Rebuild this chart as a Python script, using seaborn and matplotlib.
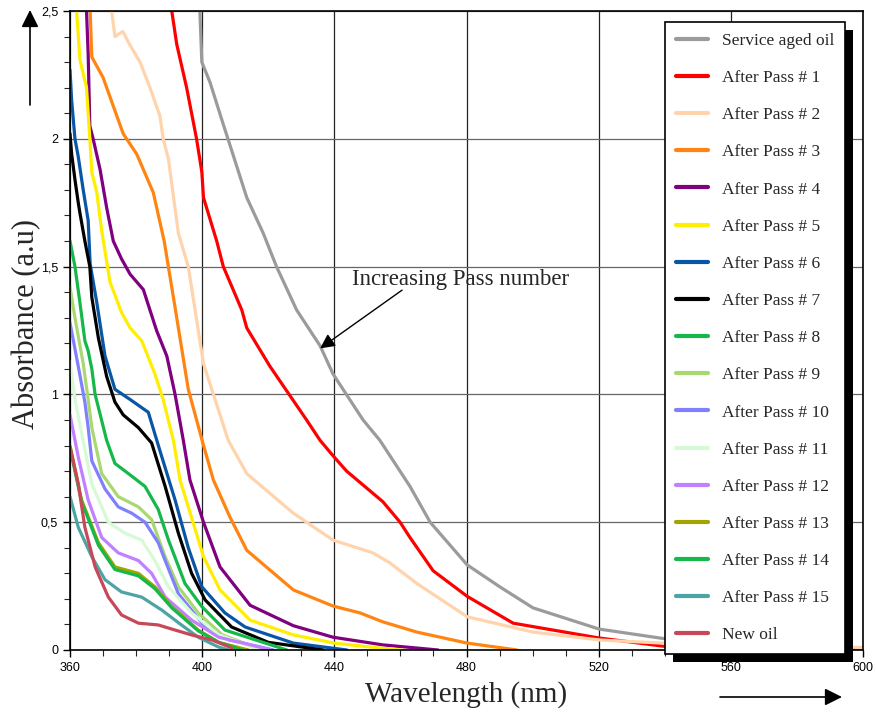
import numpy as np
import pandas as pd
import seaborn as sns
import matplotlib.pyplot as plt
from matplotlib.ticker import MultipleLocator, FuncFormatter
from matplotlib.patches import Rectangle
from matplotlib.transforms import IdentityTransform

# ---- data (wavelength nm, absorbance a.u.) ----
names = ["Service aged oil"] + ["After Pass # %d" % i for i in range(1, 16)] + ["New oil"]
colors = ["#9b9b9b", "#ff0000", "#ffd4ac", "#ff8412", "#800080", "#ffee00",
          "#0a56a6", "#000000", "#16b84a", "#a8d870", "#8080ff", "#d6fad6",
          "#c080ff", "#a4a400", "#16b84a", "#4ea4a4", "#c84858"]

wl_aged = [399.3, 399.9, 402.4, 406.3, 407.8, 413.5, 418.5, 422.5, 428.6, 435.7, 439.6,
           448.7, 453.8, 462.9, 469.0, 480.2, 490.1, 500.1, 520.1, 539.5, 560, 580, 600]
ab_aged = [2.50, 2.30, 2.22, 2.06, 2.00, 1.77, 1.63, 1.50, 1.33, 1.19, 1.08,
           0.90, 0.82, 0.64, 0.50, 0.333, 0.247, 0.165, 0.082, 0.045, 0.025, 0.014, 0.008]

wl_p1 = [390.8, 392.3, 395.3, 398.3, 399.9, 400.4, 404.4, 406.4, 412.0, 413.5, 420.5, 431.6,
         435.7, 439.6, 443.7, 454.7, 459.9, 462.9, 469.9, 480.2, 494.1, 520.1, 539.5, 570, 600]
ab_p1 = [2.50, 2.37, 2.20, 2.00, 1.87, 1.77, 1.60, 1.50, 1.33, 1.26, 1.11, 0.90,
         0.82, 0.76, 0.70, 0.58, 0.50, 0.44, 0.31, 0.21, 0.105, 0.047, 0.015, 0.008, 0.004]

wl_p2 = [372.6, 373.6, 376.0, 378.0, 381.2, 384.2, 387.2, 388.2, 389.8, 392.8, 395.8, 400.4,
         403.4, 407.9, 413.5, 427.6, 439.6, 451.7, 456.9, 465.0, 480.2, 500.1, 520.4, 539.5, 570, 600]
ab_p2 = [2.50, 2.40, 2.42, 2.37, 2.30, 2.20, 2.09, 2.00, 1.92, 1.63, 1.50, 1.12,
         1.00, 0.82, 0.69, 0.535, 0.43, 0.38, 0.34, 0.26, 0.13, 0.07, 0.039, 0.027, 0.016, 0.01]

wl_p3 = [366.1, 366.6, 370.0, 373.6, 376.1, 380.2, 385.2, 388.5, 391.8, 395.8, 400.2, 403.4,
         408.4, 413.5, 427.6, 439.6, 447.8, 454.7, 465.0, 480.2, 495.3]
ab_p3 = [2.50, 2.32, 2.24, 2.11, 2.02, 1.94, 1.79, 1.60, 1.34, 1.02, 0.81, 0.665,
         0.52, 0.39, 0.235, 0.172, 0.145, 0.11, 0.07, 0.027, 0.0]

wl_p4 = [365.0, 365.5, 366.0, 367.0, 369.1, 371.1, 373.1, 375.6, 378.2, 382.2, 386.2, 389.3,
         391.8, 394.3, 396.3, 400.4, 405.4, 414.5, 427.6, 439.6, 454.7, 471.4]
ab_p4 = [2.50, 2.33, 2.05, 2.00, 1.88, 1.73, 1.60, 1.53, 1.47, 1.41, 1.25, 1.15,
         1.00, 0.82, 0.665, 0.50, 0.325, 0.175, 0.095, 0.05, 0.02, 0.0]

wl_p5 = [362.0, 363.0, 365.0, 366.0, 366.6, 368.1, 369.6, 370.1, 372.1, 375.6, 378.2, 381.7,
         385.7, 388.2, 391.3, 393.3, 395.8, 400.4, 405.4, 414.5, 427.6, 440.0, 452.0, 460.0]
ab_p5 = [2.50, 2.31, 2.20, 2.00, 1.87, 1.79, 1.64, 1.60, 1.44, 1.32, 1.26, 1.21,
         1.08, 0.98, 0.82, 0.665, 0.56, 0.365, 0.235, 0.117, 0.059, 0.027, 0.01, 0.0]

wl_p6 = [360.0, 360.5, 361.5, 362.5, 364.0, 365.5, 366.1, 368.1, 370.6, 373.6, 378.2, 383.7,
         387.8, 391.8, 395.8, 399.9, 406.9, 413.0, 427.6, 443.8]
ab_p6 = [2.27, 2.15, 2.00, 1.93, 1.80, 1.68, 1.51, 1.36, 1.15, 1.02, 0.98, 0.93,
         0.755, 0.587, 0.40, 0.247, 0.145, 0.09, 0.027, 0.0]

wl_p7 = [360.0, 360.5, 361.5, 362.5, 363.0, 364.5, 366.0, 366.6, 368.6, 371.1, 373.6, 376.1,
         380.7, 384.7, 388.8, 392.8, 396.8, 400.9, 408.9, 420.0, 436.6]
ab_p7 = [2.02, 1.94, 1.84, 1.75, 1.71, 1.60, 1.50, 1.38, 1.22, 1.07, 0.97, 0.92,
         0.87, 0.81, 0.64, 0.457, 0.30, 0.196, 0.09, 0.03, 0.0]

wl_p8 = [360.0, 361.5, 363.0, 364.5, 365.5, 366.6, 367.6, 371.1, 373.6, 378.7, 382.7, 386.7,
         389.8, 394.8, 399.9, 406.9, 425.6]
ab_p8 = [1.60, 1.50, 1.36, 1.21, 1.17, 1.10, 1.00, 0.82, 0.73, 0.68, 0.64, 0.55,
         0.43, 0.26, 0.17, 0.078, 0.0]

wl_p9 = [360.0, 361.5, 364.0, 365.5, 366.6, 369.6, 374.6, 380.7, 384.7, 388.8, 392.8, 398.8, 406.0, 418.0]
ab_p9 = [1.42, 1.30, 1.12, 0.98, 0.87, 0.69, 0.60, 0.56, 0.51, 0.365, 0.247, 0.145, 0.06, 0.0]

wl_p10 = [360.0, 362.5, 364.5, 365.5, 366.6, 370.6, 374.6, 378.7, 382.7, 386.7, 388.8, 392.8,
          400.9, 408.0, 421.5]
ab_p10 = [1.28, 1.11, 0.97, 0.87, 0.74, 0.63, 0.56, 0.535, 0.50, 0.42, 0.35, 0.22,
          0.09, 0.04, 0.0]

wl_p11 = [360.0, 361.5, 363.5, 366.6, 371.6, 376.6, 381.7, 385.7, 389.8, 396.8, 405.0, 417.5]
ab_p11 = [1.13, 0.98, 0.85, 0.65, 0.50, 0.457, 0.43, 0.35, 0.247, 0.145, 0.06, 0.0]

wl_p12 = [360.0, 362.5, 365.5, 369.6, 374.6, 380.7, 384.7, 388.8, 396.8, 405.0, 421.0]
ab_p12 = [0.92, 0.755, 0.587, 0.44, 0.38, 0.35, 0.30, 0.207, 0.117, 0.05, 0.0]

wl_p13 = [360.0, 363.5, 368.6, 373.6, 380.7, 385.7, 390.8, 398.8, 405.0, 414.0]
ab_p13 = [0.80, 0.587, 0.42, 0.325, 0.30, 0.247, 0.17, 0.078, 0.03, 0.0]

wl_p14 = [360.0, 363.5, 368.6, 373.6, 380.7, 385.7, 390.8, 398.8, 405.0, 412.0]
ab_p14 = [0.79, 0.58, 0.41, 0.315, 0.29, 0.24, 0.165, 0.075, 0.03, 0.0]

wl_p15 = [360.0, 362.5, 366.6, 370.6, 375.6, 381.7, 387.8, 393.0, 398.8, 404.9, 408.0]
ab_p15 = [0.60, 0.48, 0.365, 0.275, 0.227, 0.207, 0.156, 0.105, 0.05, 0.012, 0.0]

wl_new = [360.0, 362.5, 364.5, 367.6, 371.6, 375.6, 380.7, 386.7, 391.8, 396.8, 403.0, 409.0]
ab_new = [0.795, 0.65, 0.48, 0.325, 0.207, 0.137, 0.105, 0.098, 0.078, 0.059, 0.039, 0.008]

wls = [wl_aged, wl_p1, wl_p2, wl_p3, wl_p4, wl_p5, wl_p6, wl_p7, wl_p8, wl_p9,
       wl_p10, wl_p11, wl_p12, wl_p13, wl_p14, wl_p15, wl_new]
abs_ = [ab_aged, ab_p1, ab_p2, ab_p3, ab_p4, ab_p5, ab_p6, ab_p7, ab_p8, ab_p9,
        ab_p10, ab_p11, ab_p12, ab_p13, ab_p14, ab_p15, ab_new]

frames = []
for n, w, a in zip(names, wls, abs_):
    frames.append(pd.DataFrame({"wavelength": w, "absorbance": a, "sample": n}))
df = pd.concat(frames, ignore_index=True)

# ---- style ----
sns.set_style("white")
plt.rcParams["font.family"] = ["Liberation Sans", "DejaVu Sans"]
serif = ["Liberation Serif", "DejaVu Serif"]

fig, ax = plt.subplots(figsize=(8.76, 7.18), dpi=100)
ax.set_position([70 / 876, 1 - 650 / 718, 793 / 876, 639 / 718])

sns.lineplot(data=df, x="wavelength", y="absorbance", hue="sample", hue_order=names,
             palette=dict(zip(names, colors)), linewidth=2.3, estimator=None,
             sort=False, ax=ax, legend=True)

ax.set_xlim(360, 600)
ax.set_ylim(0, 2.5)
ax.xaxis.set_major_locator(MultipleLocator(40))
ax.xaxis.set_minor_locator(MultipleLocator(10))
ax.yaxis.set_major_locator(MultipleLocator(0.5))
ax.yaxis.set_minor_locator(MultipleLocator(0.1))
ax.yaxis.set_major_formatter(FuncFormatter(lambda v, p: ("%g" % v).replace(".", ",")))
ax.tick_params(which="major", direction="out", length=5, width=1, labelsize=9, colors="black")
ax.tick_params(which="minor", direction="out", length=4, width=0.8)
ax.tick_params(axis="both", which="both", bottom=True, left=True)
ax.grid(axis="x", color="#222222", linewidth=0.9)
ax.grid(axis="y", color="#666666", linewidth=0.9)
ax.set_axisbelow(True)
for s in ax.spines.values():
    s.set_color("black")
    s.set_linewidth(1.2)

ax.set_xlabel("Wavelength (nm)", family=serif, fontsize=21)
ax.set_ylabel("Absorbance (a.u)", family=serif, fontsize=22)
ax.xaxis.set_label_coords(0.5, -0.048)
ax.yaxis.set_label_coords(-0.036, 0.51)

# annotation
ax.text(478.3, 1.45, "Increasing Pass number", family=serif, fontsize=16.5,
        ha="center", va="center")
ax.annotate("", xy=(435.7, 1.18), xytext=(460.5, 1.408),
            arrowprops=dict(arrowstyle="-|>", color="black", lw=1.0,
                            mutation_scale=22, shrinkA=0, shrinkB=0))

# direction arrows outside the axes
ax.annotate("", xy=(30 / 876, 1 - 10 / 718), xytext=(30 / 876, 1 - 105 / 718),
            xycoords="figure fraction", textcoords="figure fraction",
            arrowprops=dict(arrowstyle="-|>", color="black", lw=1.2,
                            mutation_scale=26, shrinkA=0, shrinkB=0))
ax.annotate("", xy=(842 / 876, 1 - 697 / 718), xytext=(720 / 876, 1 - 697 / 718),
            xycoords="figure fraction", textcoords="figure fraction",
            arrowprops=dict(arrowstyle="-|>", color="black", lw=1.2,
                            mutation_scale=26, shrinkA=0, shrinkB=0))

# legend
old = ax.get_legend()
handles = old.legend_handles
labels = [t.get_text() for t in old.get_texts()]
old.remove()
for h in handles:
    h.set_linewidth(3)
leg = ax.legend(handles, labels, loc="upper left",
                bbox_to_anchor=(665 / 876, 1 - 22 / 718), bbox_transform=fig.transFigure,
                prop={"family": serif, "size": 12.5}, frameon=True, fancybox=False,
                edgecolor="black", framealpha=1, borderpad=0.62, labelspacing=1.21,
                handlelength=1.85, handletextpad=0.8, borderaxespad=0)
leg.get_frame().set_linewidth(1.2)
leg.set_zorder(10)

fig.canvas.draw()
bb = leg.get_window_extent()
shadow = Rectangle((bb.x0 + 8, bb.y0 - 8), bb.width, bb.height, transform=IdentityTransform(),
                   facecolor="black", edgecolor="none", zorder=9.5, clip_on=False)
ax.add_patch(shadow)

fig.savefig("out.png", dpi=100)
